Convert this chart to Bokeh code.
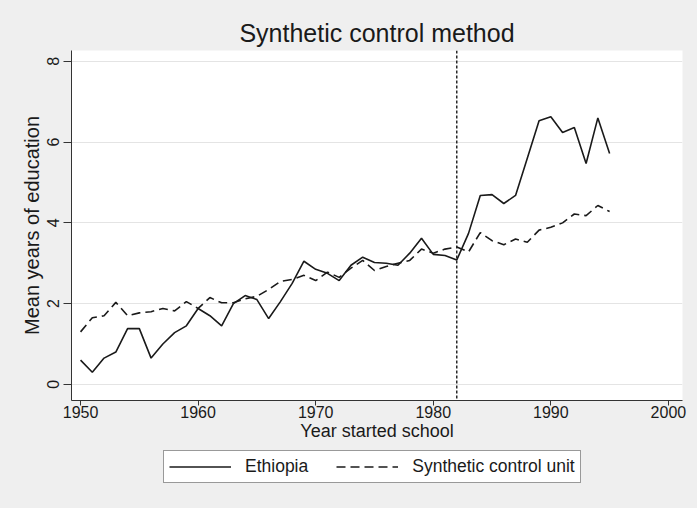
from bokeh.plotting import figure
from bokeh.layouts import column
from bokeh.models import Range1d, Span, Legend, LegendItem, FixedTicker
from bokeh.embed import file_html
from bokeh.resources import INLINE

# Mean years of education by year started school
years = list(range(1950, 1996))
ethiopia = [0.60, 0.30, 0.65, 0.80, 1.38, 1.38, 0.65, 1.00, 1.28, 1.45,
            1.88, 1.70, 1.45, 2.00, 2.20, 2.10, 1.63, 2.05, 2.50, 3.05,
            2.85, 2.75, 2.57, 2.95, 3.15, 3.02, 3.00, 2.95, 3.25, 3.62,
            3.22, 3.19, 3.08, 3.74, 4.68, 4.70, 4.48, 4.68, 5.60, 6.53,
            6.63, 6.24, 6.36, 5.47, 6.60, 5.72]
synthetic = [1.30, 1.65, 1.70, 2.03, 1.70, 1.77, 1.80, 1.88, 1.82, 2.05,
             1.88, 2.15, 2.02, 2.02, 2.12, 2.18, 2.35, 2.55, 2.60, 2.70,
             2.57, 2.78, 2.65, 2.88, 3.07, 2.82, 2.92, 3.00, 3.07, 3.35,
             3.25, 3.35, 3.40, 3.28, 3.76, 3.56, 3.46, 3.60, 3.52, 3.82,
             3.89, 4.00, 4.22, 4.18, 4.43, 4.28]
series_names = ["Ethiopia", "Synthetic control unit"]
treatment_year = 1982
x_ticks = [1950, 1960, 1970, 1980, 1990, 2000]
y_ticks = [0, 2, 4, 6, 8]

FONT = "Liberation Sans"
INK = "#1a1a1a"
BG = "#efefef"
SOLID_W = 1.6
DASH = "9 5"

p = figure(width=697, height=448, output_backend="svg", toolbar_location=None,
           x_range=Range1d(1949.23, 2001.2), y_range=Range1d(-0.40, 8.27),
           min_border_left=71, min_border_right=15, min_border_top=50,
           min_border_bottom=48)

p.background_fill_color = "white"
p.border_fill_color = BG
p.outline_line_color = None

p.title.text = "Synthetic control method"
p.title.text_font = FONT
p.title.text_font_size = "25px"
p.title.text_font_style = "normal"
p.title.text_color = INK
p.title.align = "center"
p.title.offset = 0
p.title.standoff = 8

# axes
for ax in (p.xaxis[0], p.yaxis[0]):
    ax.axis_line_color = "#333333"
    ax.major_tick_line_color = "#333333"
    ax.major_tick_in = 0
    ax.minor_tick_line_color = None
    ax.major_label_text_font = FONT
    ax.major_label_text_font_size = "16px"
    ax.major_label_text_color = INK
    ax.axis_label_text_font = FONT
    ax.axis_label_text_font_style = "normal"
    ax.axis_label_text_color = INK

p.xaxis.major_tick_out = 5
p.yaxis.major_tick_out = 8
p.xaxis.ticker = FixedTicker(ticks=x_ticks)
p.yaxis.ticker = FixedTicker(ticks=y_ticks)
p.xaxis.axis_label = "Year started school"
p.yaxis.axis_label = "Mean years of education"
p.xaxis.axis_label_text_font_size = "18px"
p.yaxis.axis_label_text_font_size = "20px"
p.yaxis.major_label_orientation = "vertical"
p.xaxis.major_label_standoff = 0
p.xaxis.axis_label_standoff = 0
p.yaxis.major_label_standoff = 4
p.yaxis.axis_label_standoff = 2

p.xgrid.grid_line_color = None
p.ygrid.grid_line_color = "#e4e4e4"
p.ygrid.grid_line_width = 1

p.line(years, ethiopia, line_color=INK, line_width=SOLID_W)
p.line(years, synthetic, line_color=INK, line_width=SOLID_W, line_dash=DASH)

p.add_layout(Span(location=treatment_year, dimension="height", line_color=INK,
                  line_width=1.4, line_dash="3 2"))

# legend strip underneath the chart; its frame lines up with the chart frame,
# the series themselves fall outside its unit ranges so only the key shows
leg = figure(width=697, height=60, output_backend="svg", toolbar_location=None,
             x_range=Range1d(0, 1), y_range=Range1d(0, 1),
             min_border_left=71, min_border_right=15, min_border_top=0,
             min_border_bottom=0, x_axis_type=None, y_axis_type=None)
leg.background_fill_color = BG
leg.border_fill_color = BG
leg.outline_line_color = None
leg.grid.visible = False

k_eth = leg.line(years, ethiopia, line_color=INK, line_width=SOLID_W)
k_syn = leg.line(years, synthetic, line_color=INK, line_width=SOLID_W, line_dash=DASH)

legend = Legend(items=[LegendItem(label=series_names[0], renderers=[k_eth]),
                       LegendItem(label=series_names[1], renderers=[k_syn])],
                orientation="horizontal", location=(92, 25),
                label_text_font=FONT, label_text_font_size="17.5px",
                label_text_color=INK, glyph_width=62, glyph_height=21,
                label_standoff=14, spacing=28, padding=5, margin=0,
                border_line_color="#333333", border_line_width=1,
                background_fill_color="white", background_fill_alpha=1.0)
leg.add_layout(legend)

layout = column(p, leg, spacing=0, styles={"background-color": BG})
open("out.html", "w").write(file_html(layout, INLINE))
